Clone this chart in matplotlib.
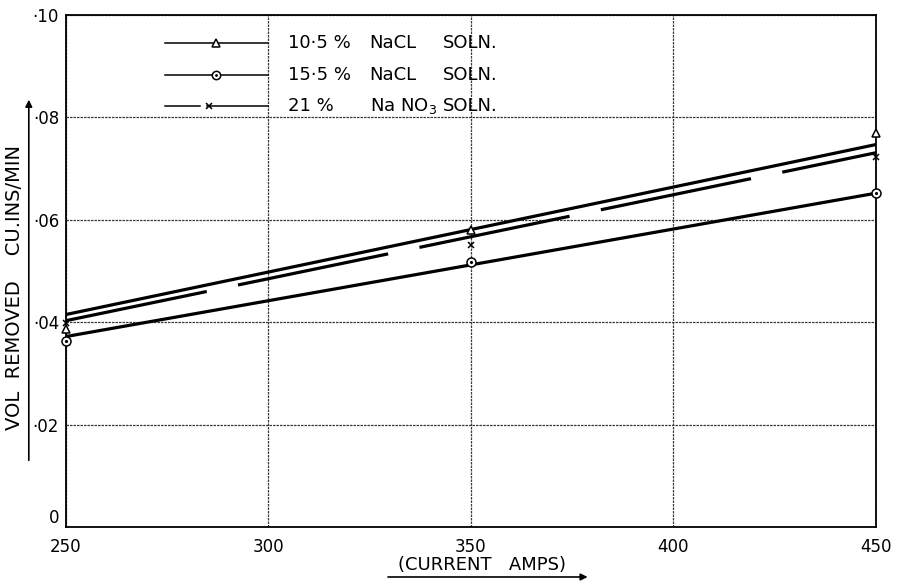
import matplotlib
matplotlib.use("Agg")
import matplotlib.pyplot as plt
from matplotlib.lines import Line2D
from matplotlib.patches import FancyArrowPatch

plt.rcParams['font.family'] = ['DejaVu Sans']

amps = [250, 350, 450]

# measured points
nacl_105 = [0.0386, 0.0580, 0.0770]
nacl_155 = [0.0363, 0.0518, 0.0652]
nano3_21 = [0.0398, 0.0551, 0.0722]

# drawn trend lines (ends at 250 and 450 amps)
line_x = [250, 450]
line_105 = [0.0415, 0.0747]
line_155 = [0.0372, 0.0652]
line_21 = [0.0403, 0.0731]

# legend text columns
conc = ["10·5 %", "15·5 %", "21 %"]
salt = ["NaCL", "NaCL", "Na NO$_3$"]
soln = ["SOLN.", "SOLN.", "SOLN."]

xticks = [250, 300, 350, 400, 450]
yticks = [0, 0.02, 0.04, 0.06, 0.08, 0.10]
ytick_labels = ["0", "·02", "·04", "·06", "·08", "·10"]

fig = plt.figure(figsize=(9, 5.84), dpi=100)
ax = fig.add_axes([0.0733, 0.0976, 0.9, 0.8767])

ax.set_xlim(250, 450)
ax.set_ylim(0, 0.10)
ax.set_xticks(xticks)
ax.set_xticklabels([str(t) for t in xticks], fontsize=12)
ax.set_yticks(yticks)
ax.set_yticklabels(ytick_labels, fontsize=12)
ax.tick_params(length=0)
ax.tick_params(axis="x", pad=8)
ax.tick_params(axis="y", pad=5)
ax.get_yticklabels()[0].set_va("bottom")
ax.grid(True, color="#3a3a3a", lw=0.9, ls=(0, (2, 0.8)))
for s in ax.spines.values():
    s.set_linewidth(1.3)

ax.plot(line_x, line_105, color="black", lw=2.3, solid_capstyle="butt")
ax.plot(line_x, line_155, color="black", lw=2.3, solid_capstyle="butt")
ax.plot(line_x, line_21, color="black", lw=2.3, ls=(3, (48, 10)), dash_capstyle="butt")

ax.plot(amps, nacl_105, ls="none", marker="^", ms=6, mfc="white", mec="black", mew=1.1, clip_on=False, zorder=5)
ax.plot(amps, nacl_155, ls="none", marker="o", ms=6.5, mfc="white", mec="black", mew=1.1, clip_on=False, zorder=5)
ax.plot(amps, nacl_155, ls="none", marker=".", ms=2.5, color="black", clip_on=False, zorder=6)
ax.plot(amps, nano3_21, ls="none", marker="x", ms=5, color="black", mew=1.1, clip_on=False, zorder=5)

# hand-drawn style key
rows = [0.9453, 0.8828, 0.8223]
tr = ax.transAxes
ax.add_line(Line2D([0.1222, 0.2494], [rows[0]] * 2, transform=tr, color="black", lw=1.1))
ax.plot([0.185], [rows[0]], transform=tr, marker="^", ms=6, mfc="white", mec="black", mew=1.1)
ax.add_line(Line2D([0.1222, 0.2494], [rows[1]] * 2, transform=tr, color="black", lw=1.1))
ax.plot([0.185], [rows[1]], transform=tr, marker="o", ms=6, mfc="white", mec="black", mew=1.1)
ax.plot([0.185], [rows[1]], transform=tr, marker=".", ms=2, color="black")
ax.add_line(Line2D([0.1222, 0.1654], [rows[2]] * 2, transform=tr, color="black", lw=1.1))
ax.add_line(Line2D([0.174, 0.2494], [rows[2]] * 2, transform=tr, color="black", lw=1.1))
ax.plot([0.176], [rows[2]], transform=tr, marker="x", ms=5, color="black", mew=1.1)
for y, a, b, c in zip(rows, conc, salt, soln):
    ax.text(0.274, y, a, transform=tr, fontsize=13, va="center")
    ax.text(0.375, y, b, transform=tr, fontsize=13, va="center")
    ax.text(0.465, y, c, transform=tr, fontsize=13, va="center")

# axis captions with underline arrows
fig.text(0.535, 0.033, "(CURRENT   AMPS)", ha="center", va="center", fontsize=13)
fig.add_artist(FancyArrowPatch(
    (0.428, 0.012), (0.656, 0.012), transform=fig.transFigure,
    arrowstyle="-|>", mutation_scale=10, lw=1.2, color="black"))

fig.text(0.0156, 0.507, "VOL  REMOVED    CU.INS/MIN", rotation=90, ha="center", va="center", fontsize=14)
fig.add_artist(FancyArrowPatch(
    (0.032, 0.207), (0.032, 0.834), transform=fig.transFigure,
    arrowstyle="-|>", mutation_scale=10, lw=1.2, color="black"))

fig.savefig("out.png", dpi=100)
